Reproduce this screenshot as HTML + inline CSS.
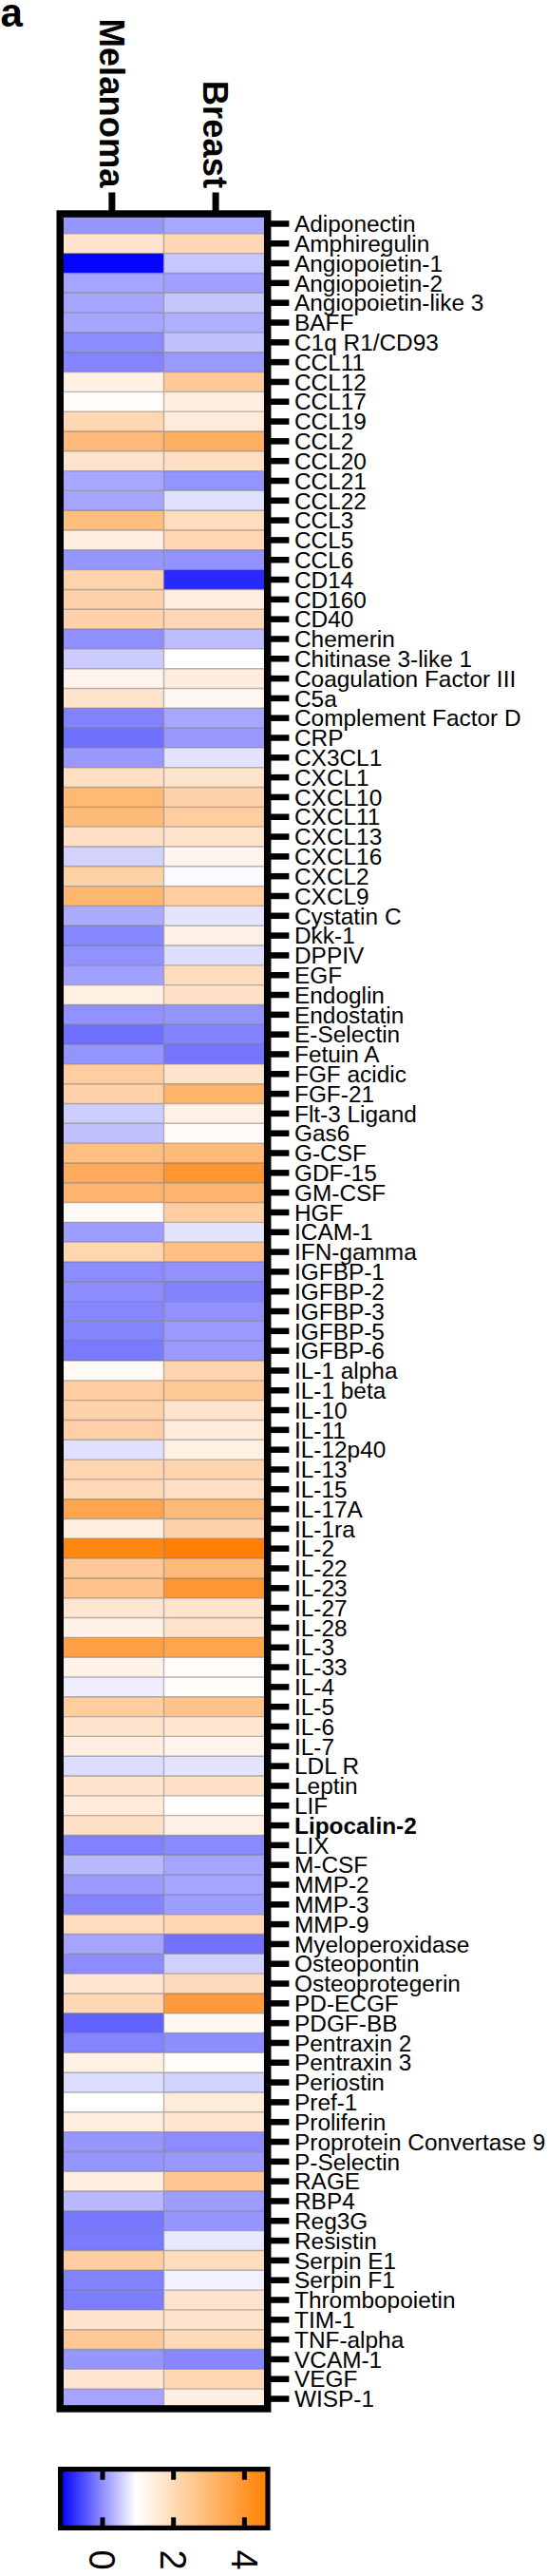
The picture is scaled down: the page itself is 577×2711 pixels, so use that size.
<!DOCTYPE html><html><head><meta charset="utf-8"><style>html,body{margin:0;padding:0;background:#fff;overflow:hidden;}svg{display:block;}text{font-family:"Liberation Sans",sans-serif;}</style></head><body>
<svg width="577" height="2711" viewBox="0 0 577 2711">
<rect width="577" height="2711" fill="#fff"/>
<text x="0.5" y="27.5" font-size="42" font-weight="bold">a</text>
<text transform="translate(104.84,197.50) rotate(90)" font-size="36.4" font-weight="bold" text-anchor="end">Melanoma</text>
<text transform="translate(214.07,198.00) rotate(90)" font-size="36.4" font-weight="bold" text-anchor="end">Breast</text>
<rect x="114.38" y="202.5" width="7" height="22.55" fill="#000"/>
<rect x="223.60" y="202.5" width="7" height="22.55" fill="#000"/>
<rect x="63.25" y="225.05" width="109.25" height="20.81" fill="rgb(150,150,255)"/>
<rect x="172.5" y="225.05" width="109.20" height="20.81" fill="rgb(167,167,255)"/>
<rect x="63.25" y="245.86" width="109.25" height="20.81" fill="rgb(255,228,205)"/>
<rect x="172.5" y="245.86" width="109.20" height="20.81" fill="rgb(255,215,180)"/>
<rect x="63.25" y="266.67" width="109.25" height="20.81" fill="rgb(5,5,255)"/>
<rect x="172.5" y="266.67" width="109.20" height="20.81" fill="rgb(200,200,255)"/>
<rect x="63.25" y="287.48" width="109.25" height="20.81" fill="rgb(165,165,255)"/>
<rect x="172.5" y="287.48" width="109.20" height="20.81" fill="rgb(160,160,255)"/>
<rect x="63.25" y="308.29" width="109.25" height="20.81" fill="rgb(165,165,255)"/>
<rect x="172.5" y="308.29" width="109.20" height="20.81" fill="rgb(198,198,255)"/>
<rect x="63.25" y="329.10" width="109.25" height="20.81" fill="rgb(166,166,255)"/>
<rect x="172.5" y="329.10" width="109.20" height="20.81" fill="rgb(175,175,255)"/>
<rect x="63.25" y="349.91" width="109.25" height="20.81" fill="rgb(140,140,255)"/>
<rect x="172.5" y="349.91" width="109.20" height="20.81" fill="rgb(193,193,255)"/>
<rect x="63.25" y="370.72" width="109.25" height="20.81" fill="rgb(133,133,255)"/>
<rect x="172.5" y="370.72" width="109.20" height="20.81" fill="rgb(155,155,255)"/>
<rect x="63.25" y="391.53" width="109.25" height="20.81" fill="rgb(255,240,228)"/>
<rect x="172.5" y="391.53" width="109.20" height="20.81" fill="rgb(255,202,155)"/>
<rect x="63.25" y="412.34" width="109.25" height="20.81" fill="rgb(255,252,249)"/>
<rect x="172.5" y="412.34" width="109.20" height="20.81" fill="rgb(255,238,226)"/>
<rect x="63.25" y="433.15" width="109.25" height="20.81" fill="rgb(255,215,178)"/>
<rect x="172.5" y="433.15" width="109.20" height="20.81" fill="rgb(255,235,218)"/>
<rect x="63.25" y="453.96" width="109.25" height="20.81" fill="rgb(255,185,120)"/>
<rect x="172.5" y="453.96" width="109.20" height="20.81" fill="rgb(255,175,98)"/>
<rect x="63.25" y="474.77" width="109.25" height="20.81" fill="rgb(255,228,205)"/>
<rect x="172.5" y="474.77" width="109.20" height="20.81" fill="rgb(255,222,195)"/>
<rect x="63.25" y="495.58" width="109.25" height="20.81" fill="rgb(167,167,255)"/>
<rect x="172.5" y="495.58" width="109.20" height="20.81" fill="rgb(148,148,255)"/>
<rect x="63.25" y="516.39" width="109.25" height="20.81" fill="rgb(165,165,255)"/>
<rect x="172.5" y="516.39" width="109.20" height="20.81" fill="rgb(225,225,255)"/>
<rect x="63.25" y="537.20" width="109.25" height="20.81" fill="rgb(255,190,125)"/>
<rect x="172.5" y="537.20" width="109.20" height="20.81" fill="rgb(255,220,190)"/>
<rect x="63.25" y="558.01" width="109.25" height="20.81" fill="rgb(255,238,225)"/>
<rect x="172.5" y="558.01" width="109.20" height="20.81" fill="rgb(255,215,180)"/>
<rect x="63.25" y="578.82" width="109.25" height="20.81" fill="rgb(150,150,255)"/>
<rect x="172.5" y="578.82" width="109.20" height="20.81" fill="rgb(147,147,255)"/>
<rect x="63.25" y="599.63" width="109.25" height="20.81" fill="rgb(255,212,172)"/>
<rect x="172.5" y="599.63" width="109.20" height="20.81" fill="rgb(40,40,255)"/>
<rect x="63.25" y="620.44" width="109.25" height="20.81" fill="rgb(255,210,170)"/>
<rect x="172.5" y="620.44" width="109.20" height="20.81" fill="rgb(255,238,225)"/>
<rect x="63.25" y="641.25" width="109.25" height="20.81" fill="rgb(255,210,172)"/>
<rect x="172.5" y="641.25" width="109.20" height="20.81" fill="rgb(255,215,182)"/>
<rect x="63.25" y="662.06" width="109.25" height="20.81" fill="rgb(143,143,255)"/>
<rect x="172.5" y="662.06" width="109.20" height="20.81" fill="rgb(188,188,255)"/>
<rect x="63.25" y="682.87" width="109.25" height="20.81" fill="rgb(203,203,255)"/>
<rect x="172.5" y="682.87" width="109.20" height="20.81" fill="rgb(255,255,255)"/>
<rect x="63.25" y="703.68" width="109.25" height="20.81" fill="rgb(255,245,238)"/>
<rect x="172.5" y="703.68" width="109.20" height="20.81" fill="rgb(255,236,222)"/>
<rect x="63.25" y="724.49" width="109.25" height="20.81" fill="rgb(255,228,205)"/>
<rect x="172.5" y="724.49" width="109.20" height="20.81" fill="rgb(255,248,242)"/>
<rect x="63.25" y="745.30" width="109.25" height="20.81" fill="rgb(130,130,255)"/>
<rect x="172.5" y="745.30" width="109.20" height="20.81" fill="rgb(167,167,255)"/>
<rect x="63.25" y="766.11" width="109.25" height="20.81" fill="rgb(112,112,255)"/>
<rect x="172.5" y="766.11" width="109.20" height="20.81" fill="rgb(152,152,255)"/>
<rect x="63.25" y="786.92" width="109.25" height="20.81" fill="rgb(152,152,255)"/>
<rect x="172.5" y="786.92" width="109.20" height="20.81" fill="rgb(228,228,255)"/>
<rect x="63.25" y="807.73" width="109.25" height="20.81" fill="rgb(255,222,195)"/>
<rect x="172.5" y="807.73" width="109.20" height="20.81" fill="rgb(255,228,205)"/>
<rect x="63.25" y="828.54" width="109.25" height="20.81" fill="rgb(255,185,115)"/>
<rect x="172.5" y="828.54" width="109.20" height="20.81" fill="rgb(255,210,170)"/>
<rect x="63.25" y="849.35" width="109.25" height="20.81" fill="rgb(255,187,120)"/>
<rect x="172.5" y="849.35" width="109.20" height="20.81" fill="rgb(255,205,160)"/>
<rect x="63.25" y="870.16" width="109.25" height="20.81" fill="rgb(255,224,198)"/>
<rect x="172.5" y="870.16" width="109.20" height="20.81" fill="rgb(255,228,205)"/>
<rect x="63.25" y="890.97" width="109.25" height="20.81" fill="rgb(210,210,255)"/>
<rect x="172.5" y="890.97" width="109.20" height="20.81" fill="rgb(255,244,238)"/>
<rect x="63.25" y="911.78" width="109.25" height="20.81" fill="rgb(255,210,165)"/>
<rect x="172.5" y="911.78" width="109.20" height="20.81" fill="rgb(250,250,255)"/>
<rect x="63.25" y="932.59" width="109.25" height="20.81" fill="rgb(255,182,112)"/>
<rect x="172.5" y="932.59" width="109.20" height="20.81" fill="rgb(255,205,160)"/>
<rect x="63.25" y="953.40" width="109.25" height="20.81" fill="rgb(172,172,255)"/>
<rect x="172.5" y="953.40" width="109.20" height="20.81" fill="rgb(228,228,255)"/>
<rect x="63.25" y="974.21" width="109.25" height="20.81" fill="rgb(135,135,255)"/>
<rect x="172.5" y="974.21" width="109.20" height="20.81" fill="rgb(255,240,230)"/>
<rect x="63.25" y="995.02" width="109.25" height="20.81" fill="rgb(146,146,255)"/>
<rect x="172.5" y="995.02" width="109.20" height="20.81" fill="rgb(222,222,255)"/>
<rect x="63.25" y="1015.83" width="109.25" height="20.81" fill="rgb(160,160,255)"/>
<rect x="172.5" y="1015.83" width="109.20" height="20.81" fill="rgb(255,220,190)"/>
<rect x="63.25" y="1036.64" width="109.25" height="20.81" fill="rgb(255,240,228)"/>
<rect x="172.5" y="1036.64" width="109.20" height="20.81" fill="rgb(255,225,200)"/>
<rect x="63.25" y="1057.45" width="109.25" height="20.81" fill="rgb(145,145,255)"/>
<rect x="172.5" y="1057.45" width="109.20" height="20.81" fill="rgb(148,148,255)"/>
<rect x="63.25" y="1078.26" width="109.25" height="20.81" fill="rgb(110,110,255)"/>
<rect x="172.5" y="1078.26" width="109.20" height="20.81" fill="rgb(130,130,255)"/>
<rect x="63.25" y="1099.07" width="109.25" height="20.81" fill="rgb(148,148,255)"/>
<rect x="172.5" y="1099.07" width="109.20" height="20.81" fill="rgb(117,117,255)"/>
<rect x="63.25" y="1119.88" width="109.25" height="20.81" fill="rgb(255,205,160)"/>
<rect x="172.5" y="1119.88" width="109.20" height="20.81" fill="rgb(255,228,205)"/>
<rect x="63.25" y="1140.69" width="109.25" height="20.81" fill="rgb(255,210,170)"/>
<rect x="172.5" y="1140.69" width="109.20" height="20.81" fill="rgb(255,180,110)"/>
<rect x="63.25" y="1161.50" width="109.25" height="20.81" fill="rgb(205,205,255)"/>
<rect x="172.5" y="1161.50" width="109.20" height="20.81" fill="rgb(255,240,230)"/>
<rect x="63.25" y="1182.31" width="109.25" height="20.81" fill="rgb(193,193,255)"/>
<rect x="172.5" y="1182.31" width="109.20" height="20.81" fill="rgb(255,250,247)"/>
<rect x="63.25" y="1203.12" width="109.25" height="20.81" fill="rgb(255,190,130)"/>
<rect x="172.5" y="1203.12" width="109.20" height="20.81" fill="rgb(255,185,120)"/>
<rect x="63.25" y="1223.93" width="109.25" height="20.81" fill="rgb(255,170,92)"/>
<rect x="172.5" y="1223.93" width="109.20" height="20.81" fill="rgb(255,150,50)"/>
<rect x="63.25" y="1244.74" width="109.25" height="20.81" fill="rgb(255,180,110)"/>
<rect x="172.5" y="1244.74" width="109.20" height="20.81" fill="rgb(255,180,110)"/>
<rect x="63.25" y="1265.55" width="109.25" height="20.81" fill="rgb(255,250,245)"/>
<rect x="172.5" y="1265.55" width="109.20" height="20.81" fill="rgb(255,205,160)"/>
<rect x="63.25" y="1286.36" width="109.25" height="20.81" fill="rgb(157,157,255)"/>
<rect x="172.5" y="1286.36" width="109.20" height="20.81" fill="rgb(228,228,255)"/>
<rect x="63.25" y="1307.17" width="109.25" height="20.81" fill="rgb(255,215,175)"/>
<rect x="172.5" y="1307.17" width="109.20" height="20.81" fill="rgb(255,190,130)"/>
<rect x="63.25" y="1327.98" width="109.25" height="20.81" fill="rgb(140,140,255)"/>
<rect x="172.5" y="1327.98" width="109.20" height="20.81" fill="rgb(145,145,255)"/>
<rect x="63.25" y="1348.79" width="109.25" height="20.81" fill="rgb(142,142,255)"/>
<rect x="172.5" y="1348.79" width="109.20" height="20.81" fill="rgb(130,130,255)"/>
<rect x="63.25" y="1369.60" width="109.25" height="20.81" fill="rgb(135,135,255)"/>
<rect x="172.5" y="1369.60" width="109.20" height="20.81" fill="rgb(145,145,255)"/>
<rect x="63.25" y="1390.41" width="109.25" height="20.81" fill="rgb(132,132,255)"/>
<rect x="172.5" y="1390.41" width="109.20" height="20.81" fill="rgb(155,155,255)"/>
<rect x="63.25" y="1411.22" width="109.25" height="20.81" fill="rgb(122,122,255)"/>
<rect x="172.5" y="1411.22" width="109.20" height="20.81" fill="rgb(155,155,255)"/>
<rect x="63.25" y="1432.03" width="109.25" height="20.81" fill="rgb(255,250,245)"/>
<rect x="172.5" y="1432.03" width="109.20" height="20.81" fill="rgb(255,212,175)"/>
<rect x="63.25" y="1452.84" width="109.25" height="20.81" fill="rgb(255,205,160)"/>
<rect x="172.5" y="1452.84" width="109.20" height="20.81" fill="rgb(255,200,150)"/>
<rect x="63.25" y="1473.65" width="109.25" height="20.81" fill="rgb(255,210,170)"/>
<rect x="172.5" y="1473.65" width="109.20" height="20.81" fill="rgb(255,228,205)"/>
<rect x="63.25" y="1494.46" width="109.25" height="20.81" fill="rgb(255,208,168)"/>
<rect x="172.5" y="1494.46" width="109.20" height="20.81" fill="rgb(255,235,218)"/>
<rect x="63.25" y="1515.27" width="109.25" height="20.81" fill="rgb(225,225,255)"/>
<rect x="172.5" y="1515.27" width="109.20" height="20.81" fill="rgb(255,240,228)"/>
<rect x="63.25" y="1536.08" width="109.25" height="20.81" fill="rgb(255,213,178)"/>
<rect x="172.5" y="1536.08" width="109.20" height="20.81" fill="rgb(255,212,175)"/>
<rect x="63.25" y="1556.89" width="109.25" height="20.81" fill="rgb(255,217,184)"/>
<rect x="172.5" y="1556.89" width="109.20" height="20.81" fill="rgb(255,222,195)"/>
<rect x="63.25" y="1577.70" width="109.25" height="20.81" fill="rgb(255,165,80)"/>
<rect x="172.5" y="1577.70" width="109.20" height="20.81" fill="rgb(255,185,120)"/>
<rect x="63.25" y="1598.51" width="109.25" height="20.81" fill="rgb(255,238,225)"/>
<rect x="172.5" y="1598.51" width="109.20" height="20.81" fill="rgb(255,210,170)"/>
<rect x="63.25" y="1619.32" width="109.25" height="20.81" fill="rgb(255,135,15)"/>
<rect x="172.5" y="1619.32" width="109.20" height="20.81" fill="rgb(255,128,5)"/>
<rect x="63.25" y="1640.13" width="109.25" height="20.81" fill="rgb(255,200,150)"/>
<rect x="172.5" y="1640.13" width="109.20" height="20.81" fill="rgb(255,185,120)"/>
<rect x="63.25" y="1660.94" width="109.25" height="20.81" fill="rgb(255,195,140)"/>
<rect x="172.5" y="1660.94" width="109.20" height="20.81" fill="rgb(255,150,50)"/>
<rect x="63.25" y="1681.75" width="109.25" height="20.81" fill="rgb(255,230,210)"/>
<rect x="172.5" y="1681.75" width="109.20" height="20.81" fill="rgb(255,228,205)"/>
<rect x="63.25" y="1702.56" width="109.25" height="20.81" fill="rgb(255,242,232)"/>
<rect x="172.5" y="1702.56" width="109.20" height="20.81" fill="rgb(255,226,202)"/>
<rect x="63.25" y="1723.37" width="109.25" height="20.81" fill="rgb(255,160,68)"/>
<rect x="172.5" y="1723.37" width="109.20" height="20.81" fill="rgb(255,165,75)"/>
<rect x="63.25" y="1744.18" width="109.25" height="20.81" fill="rgb(255,242,232)"/>
<rect x="172.5" y="1744.18" width="109.20" height="20.81" fill="rgb(255,252,250)"/>
<rect x="63.25" y="1764.99" width="109.25" height="20.81" fill="rgb(238,238,255)"/>
<rect x="172.5" y="1764.99" width="109.20" height="20.81" fill="rgb(255,252,250)"/>
<rect x="63.25" y="1785.80" width="109.25" height="20.81" fill="rgb(255,205,160)"/>
<rect x="172.5" y="1785.80" width="109.20" height="20.81" fill="rgb(255,195,140)"/>
<rect x="63.25" y="1806.61" width="109.25" height="20.81" fill="rgb(255,228,205)"/>
<rect x="172.5" y="1806.61" width="109.20" height="20.81" fill="rgb(255,230,210)"/>
<rect x="63.25" y="1827.42" width="109.25" height="20.81" fill="rgb(255,238,225)"/>
<rect x="172.5" y="1827.42" width="109.20" height="20.81" fill="rgb(255,245,238)"/>
<rect x="63.25" y="1848.23" width="109.25" height="20.81" fill="rgb(220,220,255)"/>
<rect x="172.5" y="1848.23" width="109.20" height="20.81" fill="rgb(228,228,255)"/>
<rect x="63.25" y="1869.04" width="109.25" height="20.81" fill="rgb(255,228,205)"/>
<rect x="172.5" y="1869.04" width="109.20" height="20.81" fill="rgb(255,225,200)"/>
<rect x="63.25" y="1889.85" width="109.25" height="20.81" fill="rgb(255,235,218)"/>
<rect x="172.5" y="1889.85" width="109.20" height="20.81" fill="rgb(255,254,253)"/>
<rect x="63.25" y="1910.66" width="109.25" height="20.81" fill="rgb(255,225,200)"/>
<rect x="172.5" y="1910.66" width="109.20" height="20.81" fill="rgb(255,240,230)"/>
<rect x="63.25" y="1931.47" width="109.25" height="20.81" fill="rgb(130,130,255)"/>
<rect x="172.5" y="1931.47" width="109.20" height="20.81" fill="rgb(138,138,255)"/>
<rect x="63.25" y="1952.28" width="109.25" height="20.81" fill="rgb(185,185,255)"/>
<rect x="172.5" y="1952.28" width="109.20" height="20.81" fill="rgb(165,165,255)"/>
<rect x="63.25" y="1973.09" width="109.25" height="20.81" fill="rgb(155,155,255)"/>
<rect x="172.5" y="1973.09" width="109.20" height="20.81" fill="rgb(165,165,255)"/>
<rect x="63.25" y="1993.90" width="109.25" height="20.81" fill="rgb(132,132,255)"/>
<rect x="172.5" y="1993.90" width="109.20" height="20.81" fill="rgb(158,158,255)"/>
<rect x="63.25" y="2014.71" width="109.25" height="20.81" fill="rgb(255,220,190)"/>
<rect x="172.5" y="2014.71" width="109.20" height="20.81" fill="rgb(255,215,180)"/>
<rect x="63.25" y="2035.52" width="109.25" height="20.81" fill="rgb(165,165,255)"/>
<rect x="172.5" y="2035.52" width="109.20" height="20.81" fill="rgb(114,114,255)"/>
<rect x="63.25" y="2056.33" width="109.25" height="20.81" fill="rgb(140,140,255)"/>
<rect x="172.5" y="2056.33" width="109.20" height="20.81" fill="rgb(208,208,255)"/>
<rect x="63.25" y="2077.14" width="109.25" height="20.81" fill="rgb(255,230,210)"/>
<rect x="172.5" y="2077.14" width="109.20" height="20.81" fill="rgb(255,218,188)"/>
<rect x="63.25" y="2097.95" width="109.25" height="20.81" fill="rgb(255,215,180)"/>
<rect x="172.5" y="2097.95" width="109.20" height="20.81" fill="rgb(255,155,60)"/>
<rect x="63.25" y="2118.76" width="109.25" height="20.81" fill="rgb(98,98,255)"/>
<rect x="172.5" y="2118.76" width="109.20" height="20.81" fill="rgb(255,248,242)"/>
<rect x="63.25" y="2139.57" width="109.25" height="20.81" fill="rgb(132,132,255)"/>
<rect x="172.5" y="2139.57" width="109.20" height="20.81" fill="rgb(142,142,255)"/>
<rect x="63.25" y="2160.38" width="109.25" height="20.81" fill="rgb(255,240,228)"/>
<rect x="172.5" y="2160.38" width="109.20" height="20.81" fill="rgb(255,252,250)"/>
<rect x="63.25" y="2181.19" width="109.25" height="20.81" fill="rgb(220,220,255)"/>
<rect x="172.5" y="2181.19" width="109.20" height="20.81" fill="rgb(210,210,255)"/>
<rect x="63.25" y="2202.00" width="109.25" height="20.81" fill="rgb(255,255,255)"/>
<rect x="172.5" y="2202.00" width="109.20" height="20.81" fill="rgb(255,235,218)"/>
<rect x="63.25" y="2222.81" width="109.25" height="20.81" fill="rgb(255,238,222)"/>
<rect x="172.5" y="2222.81" width="109.20" height="20.81" fill="rgb(255,230,210)"/>
<rect x="63.25" y="2243.62" width="109.25" height="20.81" fill="rgb(150,150,255)"/>
<rect x="172.5" y="2243.62" width="109.20" height="20.81" fill="rgb(140,140,255)"/>
<rect x="63.25" y="2264.43" width="109.25" height="20.81" fill="rgb(150,150,255)"/>
<rect x="172.5" y="2264.43" width="109.20" height="20.81" fill="rgb(152,152,255)"/>
<rect x="63.25" y="2285.24" width="109.25" height="20.81" fill="rgb(255,238,222)"/>
<rect x="172.5" y="2285.24" width="109.20" height="20.81" fill="rgb(255,198,145)"/>
<rect x="63.25" y="2306.05" width="109.25" height="20.81" fill="rgb(185,185,255)"/>
<rect x="172.5" y="2306.05" width="109.20" height="20.81" fill="rgb(157,157,255)"/>
<rect x="63.25" y="2326.86" width="109.25" height="20.81" fill="rgb(120,120,255)"/>
<rect x="172.5" y="2326.86" width="109.20" height="20.81" fill="rgb(150,150,255)"/>
<rect x="63.25" y="2347.67" width="109.25" height="20.81" fill="rgb(122,122,255)"/>
<rect x="172.5" y="2347.67" width="109.20" height="20.81" fill="rgb(232,232,255)"/>
<rect x="63.25" y="2368.48" width="109.25" height="20.81" fill="rgb(255,205,160)"/>
<rect x="172.5" y="2368.48" width="109.20" height="20.81" fill="rgb(255,220,190)"/>
<rect x="63.25" y="2389.29" width="109.25" height="20.81" fill="rgb(130,130,255)"/>
<rect x="172.5" y="2389.29" width="109.20" height="20.81" fill="rgb(242,242,255)"/>
<rect x="63.25" y="2410.10" width="109.25" height="20.81" fill="rgb(125,125,255)"/>
<rect x="172.5" y="2410.10" width="109.20" height="20.81" fill="rgb(255,228,205)"/>
<rect x="63.25" y="2430.91" width="109.25" height="20.81" fill="rgb(255,228,205)"/>
<rect x="172.5" y="2430.91" width="109.20" height="20.81" fill="rgb(255,228,205)"/>
<rect x="63.25" y="2451.72" width="109.25" height="20.81" fill="rgb(255,200,150)"/>
<rect x="172.5" y="2451.72" width="109.20" height="20.81" fill="rgb(255,218,185)"/>
<rect x="63.25" y="2472.53" width="109.25" height="20.81" fill="rgb(150,150,255)"/>
<rect x="172.5" y="2472.53" width="109.20" height="20.81" fill="rgb(135,135,255)"/>
<rect x="63.25" y="2493.34" width="109.25" height="20.81" fill="rgb(255,230,210)"/>
<rect x="172.5" y="2493.34" width="109.20" height="20.81" fill="rgb(255,215,180)"/>
<rect x="63.25" y="2514.15" width="109.25" height="20.81" fill="rgb(165,165,255)"/>
<rect x="172.5" y="2514.15" width="109.20" height="20.81" fill="rgb(255,238,225)"/>
<path d="M63.25 245.86H281.7 M63.25 266.67H281.7 M63.25 287.48H281.7 M63.25 308.29H281.7 M63.25 329.10H281.7 M63.25 349.91H281.7 M63.25 370.72H281.7 M63.25 391.53H281.7 M63.25 412.34H281.7 M63.25 433.15H281.7 M63.25 453.96H281.7 M63.25 474.77H281.7 M63.25 495.58H281.7 M63.25 516.39H281.7 M63.25 537.20H281.7 M63.25 558.01H281.7 M63.25 578.82H281.7 M63.25 599.63H281.7 M63.25 620.44H281.7 M63.25 641.25H281.7 M63.25 662.06H281.7 M63.25 682.87H281.7 M63.25 703.68H281.7 M63.25 724.49H281.7 M63.25 745.30H281.7 M63.25 766.11H281.7 M63.25 786.92H281.7 M63.25 807.73H281.7 M63.25 828.54H281.7 M63.25 849.35H281.7 M63.25 870.16H281.7 M63.25 890.97H281.7 M63.25 911.78H281.7 M63.25 932.59H281.7 M63.25 953.40H281.7 M63.25 974.21H281.7 M63.25 995.02H281.7 M63.25 1015.83H281.7 M63.25 1036.64H281.7 M63.25 1057.45H281.7 M63.25 1078.26H281.7 M63.25 1099.07H281.7 M63.25 1119.88H281.7 M63.25 1140.69H281.7 M63.25 1161.50H281.7 M63.25 1182.31H281.7 M63.25 1203.12H281.7 M63.25 1223.93H281.7 M63.25 1244.74H281.7 M63.25 1265.55H281.7 M63.25 1286.36H281.7 M63.25 1307.17H281.7 M63.25 1327.98H281.7 M63.25 1348.79H281.7 M63.25 1369.60H281.7 M63.25 1390.41H281.7 M63.25 1411.22H281.7 M63.25 1432.03H281.7 M63.25 1452.84H281.7 M63.25 1473.65H281.7 M63.25 1494.46H281.7 M63.25 1515.27H281.7 M63.25 1536.08H281.7 M63.25 1556.89H281.7 M63.25 1577.70H281.7 M63.25 1598.51H281.7 M63.25 1619.32H281.7 M63.25 1640.13H281.7 M63.25 1660.94H281.7 M63.25 1681.75H281.7 M63.25 1702.56H281.7 M63.25 1723.37H281.7 M63.25 1744.18H281.7 M63.25 1764.99H281.7 M63.25 1785.80H281.7 M63.25 1806.61H281.7 M63.25 1827.42H281.7 M63.25 1848.23H281.7 M63.25 1869.04H281.7 M63.25 1889.85H281.7 M63.25 1910.66H281.7 M63.25 1931.47H281.7 M63.25 1952.28H281.7 M63.25 1973.09H281.7 M63.25 1993.90H281.7 M63.25 2014.71H281.7 M63.25 2035.52H281.7 M63.25 2056.33H281.7 M63.25 2077.14H281.7 M63.25 2097.95H281.7 M63.25 2118.76H281.7 M63.25 2139.57H281.7 M63.25 2160.38H281.7 M63.25 2181.19H281.7 M63.25 2202.00H281.7 M63.25 2222.81H281.7 M63.25 2243.62H281.7 M63.25 2264.43H281.7 M63.25 2285.24H281.7 M63.25 2306.05H281.7 M63.25 2326.86H281.7 M63.25 2347.67H281.7 M63.25 2368.48H281.7 M63.25 2389.29H281.7 M63.25 2410.10H281.7 M63.25 2430.91H281.7 M63.25 2451.72H281.7 M63.25 2472.53H281.7 M63.25 2493.34H281.7 M63.25 2514.15H281.7 M172.5 225.05V2534.96" stroke="rgba(110,110,110,0.5)" stroke-width="1.4" fill="none"/>
<rect x="63.25" y="225.05" width="218.45" height="2309.91" fill="none" stroke="#000" stroke-width="7.5"/>
<rect x="284.4" y="232.21" width="20.00" height="6.5" fill="#000"/>
<text x="310.0" y="244.16" font-size="24.4">Adiponectin</text>
<rect x="284.4" y="253.01" width="20.00" height="6.5" fill="#000"/>
<text x="310.0" y="264.96" font-size="24.4">Amphiregulin</text>
<rect x="284.4" y="273.82" width="20.00" height="6.5" fill="#000"/>
<text x="310.0" y="285.77" font-size="24.4">Angiopoietin-1</text>
<rect x="284.4" y="294.63" width="20.00" height="6.5" fill="#000"/>
<text x="310.0" y="306.58" font-size="24.4">Angiopoietin-2</text>
<rect x="284.4" y="315.44" width="20.00" height="6.5" fill="#000"/>
<text x="310.0" y="327.39" font-size="24.4">Angiopoietin-like 3</text>
<rect x="284.4" y="336.25" width="20.00" height="6.5" fill="#000"/>
<text x="310.0" y="348.20" font-size="24.4">BAFF</text>
<rect x="284.4" y="357.06" width="20.00" height="6.5" fill="#000"/>
<text x="310.0" y="369.01" font-size="24.4">C1q R1/CD93</text>
<rect x="284.4" y="377.88" width="20.00" height="6.5" fill="#000"/>
<text x="310.0" y="389.82" font-size="24.4">CCL11</text>
<rect x="284.4" y="398.69" width="20.00" height="6.5" fill="#000"/>
<text x="310.0" y="410.63" font-size="24.4">CCL12</text>
<rect x="284.4" y="419.50" width="20.00" height="6.5" fill="#000"/>
<text x="310.0" y="431.44" font-size="24.4">CCL17</text>
<rect x="284.4" y="440.31" width="20.00" height="6.5" fill="#000"/>
<text x="310.0" y="452.25" font-size="24.4">CCL19</text>
<rect x="284.4" y="461.12" width="20.00" height="6.5" fill="#000"/>
<text x="310.0" y="473.06" font-size="24.4">CCL2</text>
<rect x="284.4" y="481.93" width="20.00" height="6.5" fill="#000"/>
<text x="310.0" y="493.88" font-size="24.4">CCL20</text>
<rect x="284.4" y="502.74" width="20.00" height="6.5" fill="#000"/>
<text x="310.0" y="514.69" font-size="24.4">CCL21</text>
<rect x="284.4" y="523.55" width="20.00" height="6.5" fill="#000"/>
<text x="310.0" y="535.50" font-size="24.4">CCL22</text>
<rect x="284.4" y="544.36" width="20.00" height="6.5" fill="#000"/>
<text x="310.0" y="556.31" font-size="24.4">CCL3</text>
<rect x="284.4" y="565.16" width="20.00" height="6.5" fill="#000"/>
<text x="310.0" y="577.12" font-size="24.4">CCL5</text>
<rect x="284.4" y="585.97" width="20.00" height="6.5" fill="#000"/>
<text x="310.0" y="597.92" font-size="24.4">CCL6</text>
<rect x="284.4" y="606.78" width="20.00" height="6.5" fill="#000"/>
<text x="310.0" y="618.74" font-size="24.4">CD14</text>
<rect x="284.4" y="627.60" width="20.00" height="6.5" fill="#000"/>
<text x="310.0" y="639.55" font-size="24.4">CD160</text>
<rect x="284.4" y="648.40" width="20.00" height="6.5" fill="#000"/>
<text x="310.0" y="660.36" font-size="24.4">CD40</text>
<rect x="284.4" y="669.21" width="20.00" height="6.5" fill="#000"/>
<text x="310.0" y="681.16" font-size="24.4">Chemerin</text>
<rect x="284.4" y="690.02" width="20.00" height="6.5" fill="#000"/>
<text x="310.0" y="701.98" font-size="24.4">Chitinase 3-like 1</text>
<rect x="284.4" y="710.84" width="20.00" height="6.5" fill="#000"/>
<text x="310.0" y="722.79" font-size="24.4">Coagulation Factor III</text>
<rect x="284.4" y="731.64" width="20.00" height="6.5" fill="#000"/>
<text x="310.0" y="743.60" font-size="24.4">C5a</text>
<rect x="284.4" y="752.45" width="20.00" height="6.5" fill="#000"/>
<text x="310.0" y="764.40" font-size="24.4">Complement Factor D</text>
<rect x="284.4" y="773.26" width="20.00" height="6.5" fill="#000"/>
<text x="310.0" y="785.21" font-size="24.4">CRP</text>
<rect x="284.4" y="794.08" width="20.00" height="6.5" fill="#000"/>
<text x="310.0" y="806.03" font-size="24.4">CX3CL1</text>
<rect x="284.4" y="814.88" width="20.00" height="6.5" fill="#000"/>
<text x="310.0" y="826.84" font-size="24.4">CXCL1</text>
<rect x="284.4" y="835.69" width="20.00" height="6.5" fill="#000"/>
<text x="310.0" y="847.64" font-size="24.4">CXCL10</text>
<rect x="284.4" y="856.50" width="20.00" height="6.5" fill="#000"/>
<text x="310.0" y="868.45" font-size="24.4">CXCL11</text>
<rect x="284.4" y="877.32" width="20.00" height="6.5" fill="#000"/>
<text x="310.0" y="889.27" font-size="24.4">CXCL13</text>
<rect x="284.4" y="898.12" width="20.00" height="6.5" fill="#000"/>
<text x="310.0" y="910.08" font-size="24.4">CXCL16</text>
<rect x="284.4" y="918.93" width="20.00" height="6.5" fill="#000"/>
<text x="310.0" y="930.88" font-size="24.4">CXCL2</text>
<rect x="284.4" y="939.74" width="20.00" height="6.5" fill="#000"/>
<text x="310.0" y="951.69" font-size="24.4">CXCL9</text>
<rect x="284.4" y="960.56" width="20.00" height="6.5" fill="#000"/>
<text x="310.0" y="972.51" font-size="24.4">Cystatin C</text>
<rect x="284.4" y="981.37" width="20.00" height="6.5" fill="#000"/>
<text x="310.0" y="993.32" font-size="24.4">Dkk-1</text>
<rect x="284.4" y="1002.17" width="20.00" height="6.5" fill="#000"/>
<text x="310.0" y="1014.12" font-size="24.4">DPPIV</text>
<rect x="284.4" y="1022.98" width="20.00" height="6.5" fill="#000"/>
<text x="310.0" y="1034.93" font-size="24.4">EGF</text>
<rect x="284.4" y="1043.80" width="20.00" height="6.5" fill="#000"/>
<text x="310.0" y="1055.75" font-size="24.4">Endoglin</text>
<rect x="284.4" y="1064.61" width="20.00" height="6.5" fill="#000"/>
<text x="310.0" y="1076.56" font-size="24.4">Endostatin</text>
<rect x="284.4" y="1085.41" width="20.00" height="6.5" fill="#000"/>
<text x="310.0" y="1097.37" font-size="24.4">E-Selectin</text>
<rect x="284.4" y="1106.22" width="20.00" height="6.5" fill="#000"/>
<text x="310.0" y="1118.17" font-size="24.4">Fetuin A</text>
<rect x="284.4" y="1127.03" width="20.00" height="6.5" fill="#000"/>
<text x="310.0" y="1138.98" font-size="24.4">FGF acidic</text>
<rect x="284.4" y="1147.85" width="20.00" height="6.5" fill="#000"/>
<text x="310.0" y="1159.80" font-size="24.4">FGF-21</text>
<rect x="284.4" y="1168.65" width="20.00" height="6.5" fill="#000"/>
<text x="310.0" y="1180.61" font-size="24.4">Flt-3 Ligand</text>
<rect x="284.4" y="1189.46" width="20.00" height="6.5" fill="#000"/>
<text x="310.0" y="1201.41" font-size="24.4">Gas6</text>
<rect x="284.4" y="1210.27" width="20.00" height="6.5" fill="#000"/>
<text x="310.0" y="1222.22" font-size="24.4">G-CSF</text>
<rect x="284.4" y="1231.09" width="20.00" height="6.5" fill="#000"/>
<text x="310.0" y="1243.04" font-size="24.4">GDF-15</text>
<rect x="284.4" y="1251.89" width="20.00" height="6.5" fill="#000"/>
<text x="310.0" y="1263.85" font-size="24.4">GM-CSF</text>
<rect x="284.4" y="1272.70" width="20.00" height="6.5" fill="#000"/>
<text x="310.0" y="1284.65" font-size="24.4">HGF</text>
<rect x="284.4" y="1293.51" width="20.00" height="6.5" fill="#000"/>
<text x="310.0" y="1305.46" font-size="24.4">ICAM-1</text>
<rect x="284.4" y="1314.32" width="20.00" height="6.5" fill="#000"/>
<text x="310.0" y="1326.27" font-size="24.4">IFN-gamma</text>
<rect x="284.4" y="1335.13" width="20.00" height="6.5" fill="#000"/>
<text x="310.0" y="1347.09" font-size="24.4">IGFBP-1</text>
<rect x="284.4" y="1355.94" width="20.00" height="6.5" fill="#000"/>
<text x="310.0" y="1367.89" font-size="24.4">IGFBP-2</text>
<rect x="284.4" y="1376.75" width="20.00" height="6.5" fill="#000"/>
<text x="310.0" y="1388.70" font-size="24.4">IGFBP-3</text>
<rect x="284.4" y="1397.56" width="20.00" height="6.5" fill="#000"/>
<text x="310.0" y="1409.51" font-size="24.4">IGFBP-5</text>
<rect x="284.4" y="1418.37" width="20.00" height="6.5" fill="#000"/>
<text x="310.0" y="1430.32" font-size="24.4">IGFBP-6</text>
<rect x="284.4" y="1439.18" width="20.00" height="6.5" fill="#000"/>
<text x="310.0" y="1451.13" font-size="24.4">IL-1 alpha</text>
<rect x="284.4" y="1459.99" width="20.00" height="6.5" fill="#000"/>
<text x="310.0" y="1471.94" font-size="24.4">IL-1 beta</text>
<rect x="284.4" y="1480.80" width="20.00" height="6.5" fill="#000"/>
<text x="310.0" y="1492.75" font-size="24.4">IL-10</text>
<rect x="284.4" y="1501.61" width="20.00" height="6.5" fill="#000"/>
<text x="310.0" y="1513.56" font-size="24.4">IL-11</text>
<rect x="284.4" y="1522.42" width="20.00" height="6.5" fill="#000"/>
<text x="310.0" y="1534.38" font-size="24.4">IL-12p40</text>
<rect x="284.4" y="1543.23" width="20.00" height="6.5" fill="#000"/>
<text x="310.0" y="1555.18" font-size="24.4">IL-13</text>
<rect x="284.4" y="1564.04" width="20.00" height="6.5" fill="#000"/>
<text x="310.0" y="1575.99" font-size="24.4">IL-15</text>
<rect x="284.4" y="1584.85" width="20.00" height="6.5" fill="#000"/>
<text x="310.0" y="1596.80" font-size="24.4">IL-17A</text>
<rect x="284.4" y="1605.66" width="20.00" height="6.5" fill="#000"/>
<text x="310.0" y="1617.62" font-size="24.4">IL-1ra</text>
<rect x="284.4" y="1626.47" width="20.00" height="6.5" fill="#000"/>
<text x="310.0" y="1638.42" font-size="24.4">IL-2</text>
<rect x="284.4" y="1647.28" width="20.00" height="6.5" fill="#000"/>
<text x="310.0" y="1659.23" font-size="24.4">IL-22</text>
<rect x="284.4" y="1668.09" width="20.00" height="6.5" fill="#000"/>
<text x="310.0" y="1680.04" font-size="24.4">IL-23</text>
<rect x="284.4" y="1688.90" width="20.00" height="6.5" fill="#000"/>
<text x="310.0" y="1700.86" font-size="24.4">IL-27</text>
<rect x="284.4" y="1709.71" width="20.00" height="6.5" fill="#000"/>
<text x="310.0" y="1721.66" font-size="24.4">IL-28</text>
<rect x="284.4" y="1730.52" width="20.00" height="6.5" fill="#000"/>
<text x="310.0" y="1742.47" font-size="24.4">IL-3</text>
<rect x="284.4" y="1751.33" width="20.00" height="6.5" fill="#000"/>
<text x="310.0" y="1763.28" font-size="24.4">IL-33</text>
<rect x="284.4" y="1772.14" width="20.00" height="6.5" fill="#000"/>
<text x="310.0" y="1784.09" font-size="24.4">IL-4</text>
<rect x="284.4" y="1792.95" width="20.00" height="6.5" fill="#000"/>
<text x="310.0" y="1804.90" font-size="24.4">IL-5</text>
<rect x="284.4" y="1813.76" width="20.00" height="6.5" fill="#000"/>
<text x="310.0" y="1825.71" font-size="24.4">IL-6</text>
<rect x="284.4" y="1834.57" width="20.00" height="6.5" fill="#000"/>
<text x="310.0" y="1846.52" font-size="24.4">IL-7</text>
<rect x="284.4" y="1855.38" width="20.00" height="6.5" fill="#000"/>
<text x="310.0" y="1867.33" font-size="24.4">LDL R</text>
<rect x="284.4" y="1876.19" width="20.00" height="6.5" fill="#000"/>
<text x="310.0" y="1888.14" font-size="24.4">Leptin</text>
<rect x="284.4" y="1897.00" width="20.00" height="6.5" fill="#000"/>
<text x="310.0" y="1908.95" font-size="24.4">LIF</text>
<rect x="284.4" y="1917.81" width="20.00" height="6.5" fill="#000"/>
<text x="310.0" y="1929.76" font-size="24.4" font-weight="bold">Lipocalin-2</text>
<rect x="284.4" y="1938.62" width="20.00" height="6.5" fill="#000"/>
<text x="310.0" y="1950.57" font-size="24.4">LIX</text>
<rect x="284.4" y="1959.43" width="20.00" height="6.5" fill="#000"/>
<text x="310.0" y="1971.38" font-size="24.4">M-CSF</text>
<rect x="284.4" y="1980.24" width="20.00" height="6.5" fill="#000"/>
<text x="310.0" y="1992.19" font-size="24.4">MMP-2</text>
<rect x="284.4" y="2001.05" width="20.00" height="6.5" fill="#000"/>
<text x="310.0" y="2013.00" font-size="24.4">MMP-3</text>
<rect x="284.4" y="2021.86" width="20.00" height="6.5" fill="#000"/>
<text x="310.0" y="2033.81" font-size="24.4">MMP-9</text>
<rect x="284.4" y="2042.67" width="20.00" height="6.5" fill="#000"/>
<text x="310.0" y="2054.62" font-size="24.4">Myeloperoxidase</text>
<rect x="284.4" y="2063.49" width="20.00" height="6.5" fill="#000"/>
<text x="310.0" y="2075.43" font-size="24.4">Osteopontin</text>
<rect x="284.4" y="2084.30" width="20.00" height="6.5" fill="#000"/>
<text x="310.0" y="2096.24" font-size="24.4">Osteoprotegerin</text>
<rect x="284.4" y="2105.11" width="20.00" height="6.5" fill="#000"/>
<text x="310.0" y="2117.05" font-size="24.4">PD-ECGF</text>
<rect x="284.4" y="2125.91" width="20.00" height="6.5" fill="#000"/>
<text x="310.0" y="2137.86" font-size="24.4">PDGF-BB</text>
<rect x="284.4" y="2146.72" width="20.00" height="6.5" fill="#000"/>
<text x="310.0" y="2158.67" font-size="24.4">Pentraxin 2</text>
<rect x="284.4" y="2167.53" width="20.00" height="6.5" fill="#000"/>
<text x="310.0" y="2179.48" font-size="24.4">Pentraxin 3</text>
<rect x="284.4" y="2188.34" width="20.00" height="6.5" fill="#000"/>
<text x="310.0" y="2200.29" font-size="24.4">Periostin</text>
<rect x="284.4" y="2209.15" width="20.00" height="6.5" fill="#000"/>
<text x="310.0" y="2221.10" font-size="24.4">Pref-1</text>
<rect x="284.4" y="2229.97" width="20.00" height="6.5" fill="#000"/>
<text x="310.0" y="2241.91" font-size="24.4">Proliferin</text>
<rect x="284.4" y="2250.78" width="20.00" height="6.5" fill="#000"/>
<text x="310.0" y="2262.72" font-size="24.4">Proprotein Convertase 9</text>
<rect x="284.4" y="2271.59" width="20.00" height="6.5" fill="#000"/>
<text x="310.0" y="2283.53" font-size="24.4">P-Selectin</text>
<rect x="284.4" y="2292.39" width="20.00" height="6.5" fill="#000"/>
<text x="310.0" y="2304.34" font-size="24.4">RAGE</text>
<rect x="284.4" y="2313.20" width="20.00" height="6.5" fill="#000"/>
<text x="310.0" y="2325.15" font-size="24.4">RBP4</text>
<rect x="284.4" y="2334.01" width="20.00" height="6.5" fill="#000"/>
<text x="310.0" y="2345.96" font-size="24.4">Reg3G</text>
<rect x="284.4" y="2354.83" width="20.00" height="6.5" fill="#000"/>
<text x="310.0" y="2366.78" font-size="24.4">Resistin</text>
<rect x="284.4" y="2375.64" width="20.00" height="6.5" fill="#000"/>
<text x="310.0" y="2387.59" font-size="24.4">Serpin E1</text>
<rect x="284.4" y="2396.45" width="20.00" height="6.5" fill="#000"/>
<text x="310.0" y="2408.39" font-size="24.4">Serpin F1</text>
<rect x="284.4" y="2417.26" width="20.00" height="6.5" fill="#000"/>
<text x="310.0" y="2429.20" font-size="24.4">Thrombopoietin</text>
<rect x="284.4" y="2438.07" width="20.00" height="6.5" fill="#000"/>
<text x="310.0" y="2450.01" font-size="24.4">TIM-1</text>
<rect x="284.4" y="2458.88" width="20.00" height="6.5" fill="#000"/>
<text x="310.0" y="2470.82" font-size="24.4">TNF-alpha</text>
<rect x="284.4" y="2479.68" width="20.00" height="6.5" fill="#000"/>
<text x="310.0" y="2491.63" font-size="24.4">VCAM-1</text>
<rect x="284.4" y="2500.49" width="20.00" height="6.5" fill="#000"/>
<text x="310.0" y="2512.44" font-size="24.4">VEGF</text>
<rect x="284.4" y="2521.30" width="20.00" height="6.5" fill="#000"/>
<text x="310.0" y="2533.25" font-size="24.4">WISP-1</text>
<defs><linearGradient id="cg" x1="0" x2="1" y1="0" y2="0"><stop offset="0" stop-color="rgb(0,0,255)"/><stop offset="0.3636" stop-color="rgb(255,255,255)"/><stop offset="1" stop-color="rgb(255,128,0)"/></linearGradient></defs>
<rect x="63.6" y="2598.6" width="218.40" height="61.80" fill="url(#cg)" stroke="#000" stroke-width="5.2"/>
<rect x="105.50" y="2598.6" width="5" height="11.10" fill="#000"/>
<rect x="105.50" y="2649.3" width="5" height="11.10" fill="#000"/>
<text transform="translate(94.40,2694) rotate(90)" font-size="38" text-anchor="middle">0</text>
<rect x="180.20" y="2598.6" width="5" height="11.10" fill="#000"/>
<rect x="180.20" y="2649.3" width="5" height="11.10" fill="#000"/>
<text transform="translate(169.10,2694) rotate(90)" font-size="38" text-anchor="middle">2</text>
<rect x="254.90" y="2598.6" width="5" height="11.10" fill="#000"/>
<rect x="254.90" y="2649.3" width="5" height="11.10" fill="#000"/>
<text transform="translate(243.80,2694) rotate(90)" font-size="38" text-anchor="middle">4</text>
</svg></body></html>
